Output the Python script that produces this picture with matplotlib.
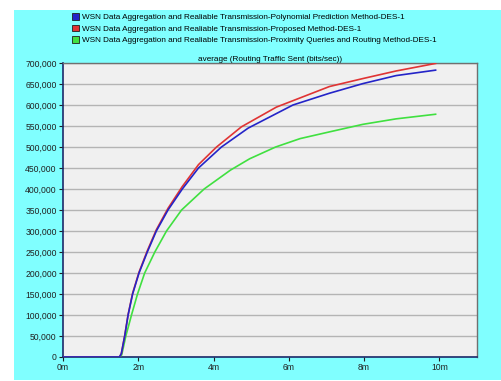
import numpy as np
import matplotlib.pyplot as plt
from matplotlib.patches import Patch, Rectangle
from matplotlib.ticker import FuncFormatter

plt.rcParams['font.family'] = ['Liberation Sans', 'DejaVu Sans']

# Simulation time (minutes) / routing traffic sent (bits/sec)
poly_t = [0, 1.5, 1.55, 1.64, 1.73, 1.85, 2.02, 2.24, 2.48, 2.79, 3.17, 3.6,
          4.21, 4.92, 6.11, 7.08, 7.97, 8.85, 9.9]
poly_v = [0, 0, 8000, 50000, 100000, 150000, 200000, 250000, 300000, 350000,
          400000, 450000, 500000, 545000, 600000, 628000, 651000, 670000, 683000]

prop_t = [0, 1.5, 1.55, 1.64, 1.73, 1.85, 2.02, 2.24, 2.48, 2.79, 3.17, 3.6,
          4.08, 4.74, 5.67, 7.08, 7.97, 8.85, 9.9]
prop_v = [0, 0, 8000, 51000, 101000, 152000, 202000, 253000, 303000, 354000,
          406000, 458000, 500000, 548000, 595000, 644000, 663000, 681000, 699000]

prox_t = [0, 1.5, 1.56, 1.67, 1.82, 1.98, 2.17, 2.44, 2.75, 3.15, 3.75, 4.45,
          4.96, 5.65, 6.3, 7.08, 7.97, 8.85, 9.9]
prox_v = [0, 0, 5000, 50000, 100000, 150000, 200000, 250000, 300000, 350000,
          400000, 445000, 472000, 500000, 520000, 536000, 554000, 567000, 578000]

labels = [
    'WSN Data Aggregation and Realiable Transmission-Polynomial Prediction Method-DES-1',
    'WSN Data Aggregation and Realiable Transmission-Proposed Method-DES-1',
    'WSN Data Aggregation and Realiable Transmission-Proximity Queries and Routing Method-DES-1',
]
colors = ['#2424c8', '#e03434', '#40e040']
x_ticks = [0, 2, 4, 6, 8, 10]
y_ticks = np.arange(0, 700001, 50000)

W, H = 502, 381
fig = plt.figure(figsize=(W / 100, H / 100), dpi=100)
fig.patch.set_facecolor('white')
fig.patches.append(Rectangle((14 / W, 1 / H), (W - 14) / W, (H - 11) / H,
                             transform=fig.transFigure, facecolor='#80ffff',
                             edgecolor='none', zorder=-1))

ax = fig.add_axes([63 / W, 1 - 357 / H, (477 - 63) / W, (357 - 63) / H])
ax.set_facecolor('#f0f0f0')

ax.plot(prox_t, prox_v, color=colors[2], lw=1.2, zorder=3)
ax.plot(prop_t, prop_v, color=colors[1], lw=1.2, zorder=3)
ax.plot(poly_t, poly_v, color=colors[0], lw=1.2, zorder=4)

ax.set_xlim(0, 11)
ax.set_ylim(0, 700000)
ax.set_xticks(x_ticks)
ax.set_xticklabels([f'{t}m' for t in x_ticks])
ax.set_yticks(y_ticks)
ax.yaxis.set_major_formatter(FuncFormatter(lambda v, p: f'{int(v):,}'))
ax.grid(True, axis='y', color='#b4b4b4', lw=1.0)
ax.set_axisbelow(True)
ax.tick_params(labelsize=6.2, length=3, width=0.8, pad=1.5, colors='#202020')
ax.tick_params(axis='x', pad=1)

for side in ['left', 'bottom']:
    ax.spines[side].set_color('#1c2a6a')
    ax.spines[side].set_linewidth(1.2)
for side in ['top', 'right']:
    ax.spines[side].set_color('#707070')
    ax.spines[side].set_linewidth(1.0)

ax.set_title('average (Routing Traffic Sent (bits/sec))', fontsize=5.9, pad=1.5)

handles = [Patch(facecolor=c, edgecolor='#202020', lw=0.6) for c in colors]
fig.legend(handles, labels, loc='upper left', bbox_to_anchor=(72 / W, 1 - 13 / H),
           frameon=False, fontsize=5.9, handlelength=0.9, handleheight=0.9,
           handletextpad=0.35, labelspacing=0.4, borderaxespad=0, borderpad=0)

plt.savefig('out.png', dpi=100, facecolor='white')
plt.close()
